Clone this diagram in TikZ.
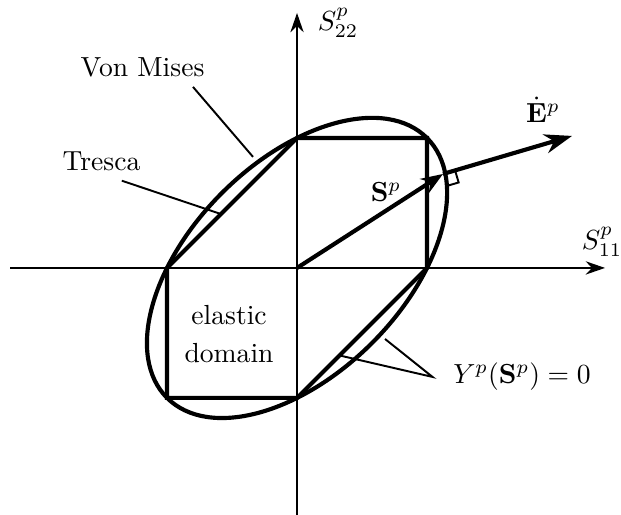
\documentclass[tikz,border=0pt]{standalone}
\usepackage{tikz}
\usepackage{amsmath}
\usetikzlibrary{arrows.meta}

\begin{document}
\begin{tikzpicture}[
    axis/.style={line width=0.7pt, -{Stealth[length=7pt, width=4.8pt]}},
    curve/.style={line width=1.5pt, line join=miter},
    vec/.style={line width=1.5pt, -{Stealth[length=8pt, width=6pt]}},
    leader/.style={line width=0.7pt},
    lbl/.style={inner sep=3.33pt}
]
    \useasboundingbox (-3.78,-3.143) rectangle (4.123,3.41);

    % axes
    \coordinate (O)  at (0,0);
    \coordinate (xl) at (-3.65,0);
    \coordinate (xr) at (3.92,0);
    \coordinate (yb) at (0,-3.15);
    \coordinate (yt) at (0,3.245);
    \draw[axis] (xl) -- (xr);
    \draw[axis] (yb) -- (yt);
    \node[lbl] (s11) at (3.881,0.331) {$S_{11}^p$};
    \node[lbl] (s22) at (0.522,3.118) {$S_{22}^p$};

    % Von Mises ellipse and Tresca hexagon
    \draw[curve, rotate=45] (O) ellipse (2.339 and 1.3505);
    \draw[curve] (0,1.654) -- (1.654,1.654) -- (1.654,0) -- (0,-1.654)
        -- (-1.654,-1.654) -- (-1.654,0) -- cycle;

    % stress and flow direction
    \coordinate (P) at (1.858,1.196);
    \coordinate (E) at (3.500,1.680);
    \draw[vec] (O) -- (P);
    \draw[vec, -{Stealth[length=10pt, width=7pt]}] (P) -- (E);
    \draw[leader, shift={(P)}, rotate=16.4] (0.16,0) -- (0.16,-0.16) -- (0,-0.16);
    \node[lbl] (sp) at (1.133,0.967) {$\mathbf{S}^p$};
    \node[lbl] (ep) at (3.131,2.011) {$\dot{\mathbf{E}}^p$};

    % labels
    \node[lbl] (vm) at (-1.966,2.552) {Von Mises};
    \node[lbl] (tr) at (-2.488,1.355) {Tresca};
    \node[lbl, align=center] (el) at (-0.865,-0.840) {elastic\\[2pt]domain};
    \node[lbl] (yl) at (2.863,-1.387) {$Y^p(\mathbf{S}^p) = 0$};

    \coordinate (vmend) at (-0.560,1.413);
    \coordinate (trend) at (-0.980,0.690);
    \coordinate (yhex)  at (0.547,-1.115);
    \coordinate (yell)  at (1.120,-0.904);
    \draw[leader] ([xshift=-2.7mm]vm.south east) -- (vmend);
    \draw[leader] ([xshift=-3.6mm]tr.south east) -- (trend);
    \draw[leader] (yhex) -- ([xshift=-1.4mm]yl.west) -- (yell);
\end{tikzpicture}
\end{document}
